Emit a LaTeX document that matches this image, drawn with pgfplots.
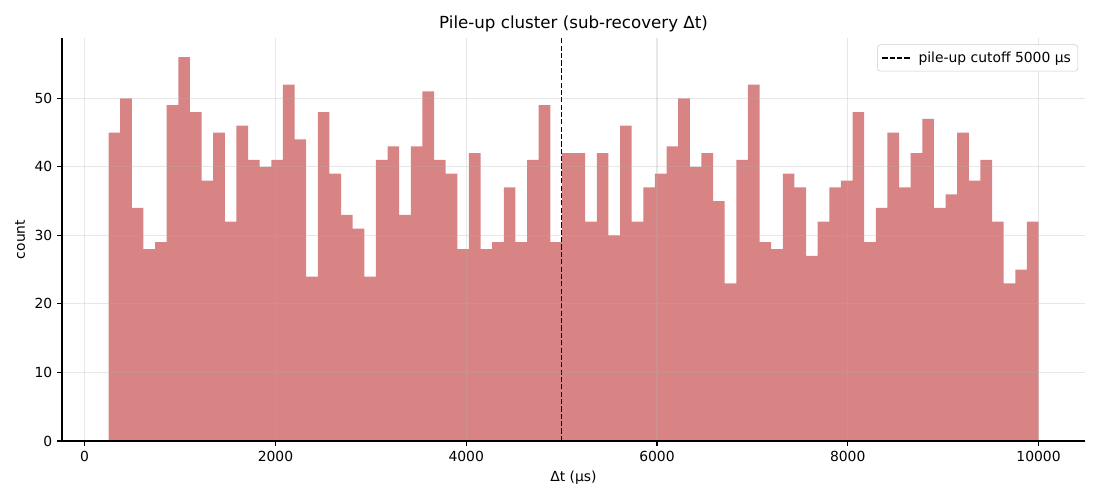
\documentclass[border=0pt]{standalone}
\usepackage{fontspec}
\setmainfont{DejaVu Sans}
\usepackage{pgfplots}
\pgfplotsset{compat=1.18}
\definecolor{barc}{HTML}{D88484}
\definecolor{gridc}{HTML}{B0B0B0}
\definecolor{legc}{HTML}{CCCCCC}
\begin{document}
\begin{tikzpicture}
\begin{axis}[
  name=ax,
  scale only axis,
  width=736.56pt, height=290.16pt,
  xmin=-237.5, xmax=10487.5,
  ymin=0, ymax=58.8,
  axis x line*=bottom, axis y line*=left,
  axis line style={-, line width=0.8pt, black},
  xtick={0,2000,...,10000}, ytick={0,10,...,50},
  tick align=outside, major tick length=3.5pt,
  tick style={black, line width=0.8pt},
  grid=major,
  major grid style={gridc, opacity=0.3, line width=0.8pt},
  axis on top,
  scaled x ticks=false,
  /pgf/number format/1000 sep={},
  /pgf/number format/assume math mode=true,
  ticklabel style={font=\fontsize{10}{12}\selectfont},
  xlabel={Δt (µs)}, ylabel={count},
  label style={font=\fontsize{10}{12}\selectfont},
  title={Pile-up cluster (sub-recovery Δt)},
  title style={font=\fontsize{12}{14.4}\selectfont, yshift=-5.5pt},
  legend style={at={(1,1)}, anchor=north east, xshift=-5pt, yshift=-4.6pt,
    draw=legc, rounded corners=2pt, fill=white,
    font=\fontsize{10}{12}\selectfont, inner sep=3pt},
  legend cell align=left,
  legend image code/.code={\draw[#1] (0pt,0pt) -- (20pt,0pt); \path[draw=none] (0pt,0pt) -- (24pt,0pt);},
]
\addplot[const plot, fill=barc, draw=none, forget plot] coordinates {
(250,45) (371.875,50) (493.75,34) (615.625,28) (737.5,29) (859.375,49)
(981.25,56) (1103.125,48) (1225,38) (1346.875,45) (1468.75,32) (1590.625,46)
(1712.5,41) (1834.375,40) (1956.25,41) (2078.125,52) (2200,44) (2321.875,24)
(2443.75,48) (2565.625,39) (2687.5,33) (2809.375,31) (2931.25,24) (3053.125,41)
(3175,43) (3296.875,33) (3418.75,43) (3540.625,51) (3662.5,41) (3784.375,39)
(3906.25,28) (4028.125,42) (4150,28) (4271.875,29) (4393.75,37) (4515.625,29)
(4637.5,41) (4759.375,49) (4881.25,29) (5003.125,42) (5125,42) (5246.875,32)
(5368.75,42) (5490.625,30) (5612.5,46) (5734.375,32) (5856.25,37) (5978.125,39)
(6100,43) (6221.875,50) (6343.75,40) (6465.625,42) (6587.5,35) (6709.375,23)
(6831.25,41) (6953.125,52) (7075,29) (7196.875,28) (7318.75,39) (7440.625,37)
(7562.5,27) (7684.375,32) (7806.25,37) (7928.125,38) (8050,48) (8171.875,29)
(8293.75,34) (8415.625,45) (8537.5,37) (8659.375,42) (8781.25,47) (8903.125,34)
(9025,36) (9146.875,45) (9268.75,38) (9390.625,41) (9512.5,32) (9634.375,23)
(9756.25,25) (9878.125,32) (10000,32)
} \closedcycle;
\addplot[black, line width=1pt, dash pattern=on 3.7pt off 1.6pt] coordinates {(5000,0) (5000,58.8)};
\addlegendentry{pile-up cutoff 5000 µs}
\end{axis}
\pgfresetboundingbox
\path ([shift={(-44.64pt,-42.48pt)}]ax.south west) rectangle ([shift={(10.8pt,27.36pt)}]ax.north east);
\end{tikzpicture}
\end{document}
